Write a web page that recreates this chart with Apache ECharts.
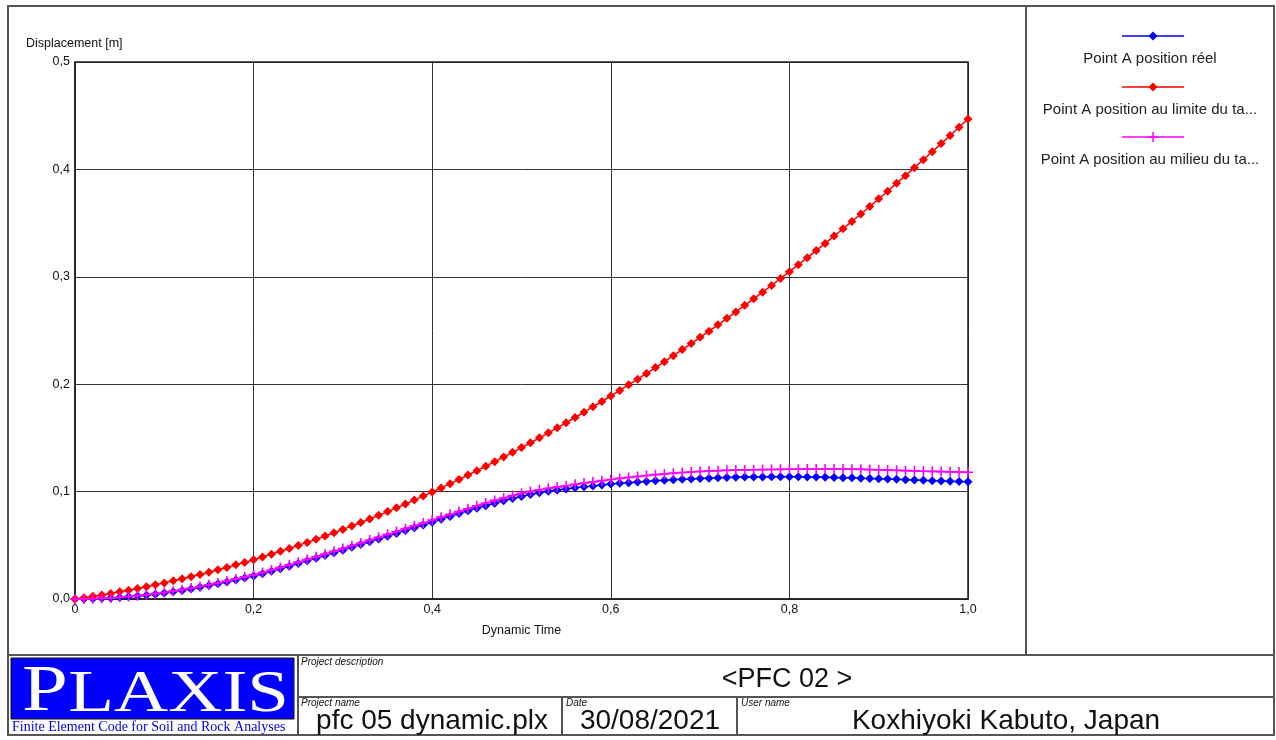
<!DOCTYPE html>
<html>
<head>
<meta charset="utf-8">
<script src="https://cdn.jsdelivr.net/npm/echarts@6/dist/echarts.min.js"></script>
<style>
  html, body { margin: 0; padding: 0; background: #fff; }
  #chart { width: 1276px; height: 740px; }
</style>
</head>
<body>
<div id="chart"></div>
<script>
// Dynamic time samples, 0.00 .. 1.00 in steps of 0.01
const times = [
  0.00,0.01,0.02,0.03,0.04,0.05,0.06,0.07,0.08,0.09,
  0.10,0.11,0.12,0.13,0.14,0.15,0.16,0.17,0.18,0.19,
  0.20,0.21,0.22,0.23,0.24,0.25,0.26,0.27,0.28,0.29,
  0.30,0.31,0.32,0.33,0.34,0.35,0.36,0.37,0.38,0.39,
  0.40,0.41,0.42,0.43,0.44,0.45,0.46,0.47,0.48,0.49,
  0.50,0.51,0.52,0.53,0.54,0.55,0.56,0.57,0.58,0.59,
  0.60,0.61,0.62,0.63,0.64,0.65,0.66,0.67,0.68,0.69,
  0.70,0.71,0.72,0.73,0.74,0.75,0.76,0.77,0.78,0.79,
  0.80,0.81,0.82,0.83,0.84,0.85,0.86,0.87,0.88,0.89,
  0.90,0.91,0.92,0.93,0.94,0.95,0.96,0.97,0.98,0.99,
  1.00
];

// Point A position réel [m]
const posReel = [
  0,0.0001,0.0003,0.0006,0.0010,0.0015,0.0021,0.0028,0.0036,0.0045,
  0.0055,0.0067,0.0080,0.0094,0.0109,0.0125,0.0142,0.0159,0.0177,0.0196,
  0.0215,0.0236,0.0258,0.0281,0.0305,0.0330,0.0355,0.0380,0.0405,0.0430,
  0.0455,0.0481,0.0507,0.0533,0.0559,0.0585,0.0611,0.0637,0.0663,0.0689,
  0.0715,0.0742,0.0769,0.0795,0.0821,0.0845,0.0869,0.0892,0.0914,0.0935,
  0.0955,0.0973,0.0989,0.1003,0.1015,0.1025,0.1035,0.1044,0.1053,0.1062,
  0.1070,0.1077,0.1083,0.1089,0.1095,0.1100,0.1105,0.1110,0.1114,0.1118,
  0.1122,0.1125,0.1128,0.1131,0.1133,0.1135,0.1136,0.1137,0.1138,0.1138,
  0.1138,0.1138,0.1137,0.1136,0.1134,0.1132,0.1130,0.1128,0.1125,0.1123,
  0.1120,0.1117,0.1114,0.1111,0.1108,0.1105,0.1102,0.1099,0.1096,0.1094,
  0.1092
];

// Point A position au limite du tas [m]
const posLimite = [
  0,0.0012,0.0025,0.0038,0.0052,0.0067,0.0082,0.0098,0.0115,0.0132,
  0.0150,0.0169,0.0188,0.0208,0.0228,0.0250,0.0272,0.0294,0.0318,0.0341,
  0.0366,0.0391,0.0417,0.0444,0.0471,0.0499,0.0527,0.0556,0.0586,0.0617,
  0.0648,0.0680,0.0712,0.0745,0.0779,0.0814,0.0849,0.0885,0.0921,0.0958,
  0.0996,0.1034,0.1074,0.1113,0.1154,0.1195,0.1236,0.1279,0.1322,0.1366,
  0.1410,0.1455,0.1501,0.1547,0.1594,0.1642,0.1690,0.1739,0.1789,0.1839,
  0.1890,0.1942,0.1994,0.2047,0.2100,0.2155,0.2210,0.2265,0.2322,0.2378,
  0.2436,0.2494,0.2553,0.2613,0.2673,0.2734,0.2795,0.2857,0.2920,0.2984,
  0.3048,0.3113,0.3178,0.3244,0.3311,0.3379,0.3447,0.3516,0.3585,0.3655,
  0.3726,0.3797,0.3870,0.3942,0.4016,0.4090,0.4165,0.4240,0.4316,0.4393,
  0.4470
];

// Point A position au milieu du tas [m]
const posMilieu = [
  0,0.0001,0.0003,0.0006,0.0010,0.0016,0.0023,0.0031,0.0040,0.0050,
  0.0060,0.0073,0.0087,0.0102,0.0117,0.0133,0.0150,0.0168,0.0187,0.0206,
  0.0225,0.0247,0.0270,0.0294,0.0318,0.0343,0.0368,0.0393,0.0419,0.0444,
  0.0470,0.0496,0.0522,0.0549,0.0575,0.0602,0.0629,0.0655,0.0682,0.0708,
  0.0735,0.0762,0.0788,0.0815,0.0841,0.0868,0.0894,0.0918,0.0941,0.0963,
  0.0985,0.1002,0.1017,0.1031,0.1043,0.1055,0.1068,0.1080,0.1091,0.1102,
  0.1113,0.1123,0.1132,0.1141,0.1150,0.1158,0.1165,0.1172,0.1178,0.1183,
  0.1188,0.1192,0.1195,0.1198,0.1200,0.1202,0.1204,0.1205,0.1206,0.1207,
  0.1208,0.1209,0.1210,0.1210,0.1210,0.1210,0.1210,0.1209,0.1207,0.1205,
  0.1202,0.1200,0.1198,0.1195,0.1193,0.1190,0.1188,0.1186,0.1184,0.1182,
  0.1180
];

const seriesNames = [
  'Point A position réel',
  'Point A position au limite du ta...',
  'Point A position au milieu du ta...'
];
const seriesColors = ['#0000ff', '#ff0000', '#ff00ff'];

const xAxisTitle = 'Dynamic Time';
const yAxisTitle = 'Displacement [m]';

const projectDescription = '<PFC 02 >';
const projectName = 'pfc 05 dynamic.plx';
const projectDate = '30/08/2021';
const userName = 'Koxhiyoki Kabuto, Japan';

const FONT = '"Liberation Sans", Arial, sans-serif';
const SERIF = '"Liberation Serif", "Times New Roman", serif';
const PLUS = 'path://M4.2,0 H5.8 V4.2 H10 V5.8 H5.8 V10 H4.2 V5.8 H0 V4.2 H4.2 Z';

const pair = (ys) => times.map((t, i) => [t, ys[i]]);
const commaNum = (v, d) => v.toFixed(d).replace('.', ',');

const chart = echarts.init(document.getElementById('chart'), null, { renderer: 'canvas' });

const frameColor = '#555';
const frameLine = { stroke: frameColor, lineWidth: 2 };

function hLine(x1, x2, y) {
  return { type: 'line', shape: { x1, y1: y, x2, y2: y }, style: frameLine, silent: true };
}
function vLine(x, y1, y2) {
  return { type: 'line', shape: { x1: x, y1, x2: x, y2 }, style: frameLine, silent: true };
}
function txt(x, y, text, font, opts) {
  return {
    type: 'text', x, y, silent: true,
    style: Object.assign({ text, font, fill: '#111',
      textAlign: 'left', textVerticalAlign: 'middle' }, opts || {})
  };
}

// legend entries stacked vertically in the side panel
const legendGraphics = [];
const legendY = [36, 87, 137];
seriesNames.forEach((name, i) => {
  const y = legendY[i];
  legendGraphics.push({ type: 'line', shape: { x1: 1122, y1: y, x2: 1184, y2: y },
    style: { stroke: seriesColors[i], lineWidth: 1.5 }, silent: true });
  if (i < 2) {
    legendGraphics.push({ type: 'polygon', shape: { points: [[1153, y - 4.5], [1157.5, y], [1153, y + 4.5], [1148.5, y]] },
      style: { fill: seriesColors[i] }, silent: true });
  } else {
    legendGraphics.push({ type: 'line', shape: { x1: 1153, y1: y - 5, x2: 1153, y2: y + 5 },
      style: { stroke: seriesColors[i], lineWidth: 1.5 }, silent: true });
    legendGraphics.push({ type: 'line', shape: { x1: 1148, y1: y, x2: 1158, y2: y },
      style: { stroke: seriesColors[i], lineWidth: 1.5 }, silent: true });
  }
  legendGraphics.push(txt(1150, y + 23, name, '15px ' + FONT, { textAlign: 'center', fill: '#222' }));
});

const option = {
  backgroundColor: '#ffffff',
  animation: false,
  grid: { left: 75, right: 308, top: 62, bottom: 141, containLabel: false },
  xAxis: {
    type: 'value', min: 0, max: 1, interval: 0.2,
    name: xAxisTitle, nameLocation: 'middle', nameGap: 25,
    nameTextStyle: { fontFamily: FONT, fontSize: 12.5, color: '#111' },
    axisLine: { show: true, lineStyle: { color: '#222', width: 1.5 } },
    axisTick: { show: false },
    axisLabel: { fontFamily: FONT, fontSize: 12.5, color: '#111', margin: 4,
      formatter: (v) => v === 0 ? '0' : commaNum(v, 1) },
    splitLine: { show: true, lineStyle: { color: '#333', width: 1 } }
  },
  yAxis: {
    type: 'value', min: 0, max: 0.5, interval: 0.1,
    axisLine: { show: true, lineStyle: { color: '#222', width: 1.5 } },
    axisTick: { show: false },
    axisLabel: { fontFamily: FONT, fontSize: 12.5, color: '#111', margin: 5,
      formatter: (v) => commaNum(v, 1) },
    splitLine: { show: true, lineStyle: { color: '#333', width: 1 } }
  },
  series: [
    { name: seriesNames[0], type: 'line', data: pair(posReel), symbol: 'diamond', symbolSize: 9,
      showAllSymbol: true, lineStyle: { color: seriesColors[0], width: 1.5 },
      itemStyle: { color: seriesColors[0] }, z: 3 },
    { name: seriesNames[1], type: 'line', data: pair(posLimite), symbol: 'diamond', symbolSize: 9,
      showAllSymbol: true, lineStyle: { color: seriesColors[1], width: 1.5 },
      itemStyle: { color: seriesColors[1] }, z: 4 },
    { name: seriesNames[2], type: 'line', data: pair(posMilieu), symbol: PLUS, symbolSize: 10,
      showAllSymbol: true, lineStyle: { color: seriesColors[2], width: 1.5 },
      itemStyle: { color: seriesColors[2] }, z: 5 }
  ],
  graphic: [
    // plot border (top/right)
    { type: 'rect', shape: { x: 75, y: 62, width: 893, height: 537 },
      style: { fill: 'none', stroke: '#222', lineWidth: 1.5 }, silent: true, z: 1 },
    txt(26, 44, yAxisTitle, '12.5px ' + FONT),
    // outer frame and panels
    { type: 'rect', shape: { x: 8, y: 6, width: 1266, height: 729 },
      style: { fill: 'none', stroke: frameColor, lineWidth: 2 }, silent: true },
    vLine(1026, 6, 655),
    hLine(8, 1274, 655),
    vLine(298, 655, 735),
    hLine(298, 1274, 697),
    vLine(562, 697, 735),
    vLine(737, 697, 735),
    // logo
    { type: 'rect', shape: { x: 11, y: 658, width: 283, height: 61 },
      style: { fill: '#0000ff', stroke: '#111', lineWidth: 1 }, silent: true },
    { type: 'group', x: 22, y: 0, scaleX: 1.25, silent: true, children: [
      txt(0, 693, 'P', '66px ' + SERIF, { fill: '#ffffff' }),
      txt(37, 695, 'LAXIS', '60px ' + SERIF, { fill: '#ffffff' })
    ] },
    { type: 'text', x: 12, y: 727, silent: true,
      style: { text: 'Finite Element Code for Soil and Rock Analyses', font: '14px ' + SERIF,
        fill: '#0000ee', textAlign: 'left', textVerticalAlign: 'middle' } },
    // title block texts
    txt(301, 662, 'Project description', 'italic 10px ' + FONT),
    txt(787, 680, projectDescription, '27px ' + FONT, { textAlign: 'center' }),
    txt(301, 703, 'Project name', 'italic 10px ' + FONT),
    txt(432, 721, projectName, '28px ' + FONT, { textAlign: 'center' }),
    txt(566, 703, 'Date', 'italic 10px ' + FONT),
    txt(650, 721, projectDate, '28px ' + FONT, { textAlign: 'center' }),
    txt(741, 703, 'User name', 'italic 10px ' + FONT),
    txt(1006, 721, userName, '28px ' + FONT, { textAlign: 'center' })
  ].concat(legendGraphics)
};

chart.setOption(option);
</script>
</body>
</html>
